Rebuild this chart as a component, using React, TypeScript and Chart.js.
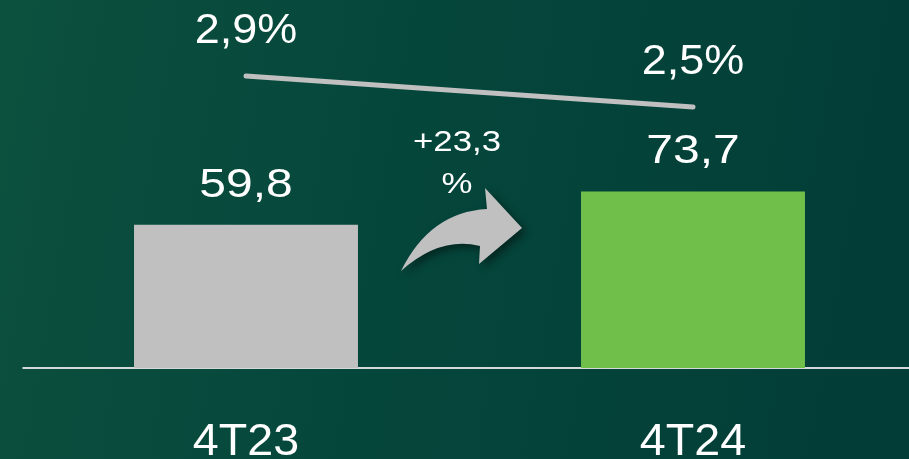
import React, { useEffect, useRef } from "react";
import { Chart, registerables } from "chart.js";

Chart.register(...registerables);

const categories = ["4T23", "4T24"];
const barValues = [59.8, 73.7];
const ratioValues = [2.9, 2.5];
const growthLabel = ["+23,3", "%"];
const barColors = ["#c0c0c0", "#70bf4b"];

const fmt = (v: number) => v.toFixed(1).replace(".", ",");

function drawText(ctx: CanvasRenderingContext2D, text: string, x: number, y: number, size: number, sx: number) {
  ctx.save();
  ctx.translate(x, y);
  ctx.scale(sx, 1);
  ctx.font = `${size}px "Liberation Sans", Arial, sans-serif`;
  ctx.fillStyle = "#ffffff";
  ctx.textAlign = "center";
  ctx.textBaseline = "alphabetic";
  ctx.fillText(text, 0, 0);
  ctx.restore();
}

const overlayPlugin = {
  id: "overlay",
  beforeDatasetsDraw(chart: any) {
    const ctx = chart.ctx as CanvasRenderingContext2D;
    const area = chart.chartArea;
    ctx.save();
    ctx.strokeStyle = "#d4d8d8";
    ctx.lineWidth = 2;
    ctx.beginPath();
    ctx.moveTo(area.left, area.bottom);
    ctx.lineTo(chart.width, area.bottom);
    ctx.stroke();
    ctx.restore();
  },
  afterDatasetsDraw(chart: any) {
    const ctx = chart.ctx as CanvasRenderingContext2D;
    const area = chart.chartArea;
    const bars = chart.getDatasetMeta(0).data;
    const pts = chart.getDatasetMeta(1).data;

    bars.forEach((b: any, i: number) => {
      drawText(ctx, fmt(barValues[i]), b.x, b.y - 28, 40, 1.2);
      drawText(ctx, categories[i], b.x, area.bottom + 87, 44, 1.06);
    });
    pts.forEach((p: any, i: number) => {
      drawText(ctx, fmt(ratioValues[i]) + "%", p.x, p.y - 33, 42, 1.07);
    });

    // growth arrow between the categories
    const mx = (bars[0].x + bars[1].x) / 2;
    const by = area.bottom;
    const P = (dx: number, dy: number): [number, number] => [mx + dx, by + dy];
    ctx.save();
    ctx.shadowColor = "rgba(0,0,0,0.45)";
    ctx.shadowBlur = 8;
    ctx.shadowOffsetX = 4;
    ctx.shadowOffsetY = 4;
    ctx.fillStyle = "#c0c0c0";
    ctx.beginPath();
    const tail = P(-68.5, -97);
    ctx.moveTo(tail[0], tail[1]);
    const c1 = P(-39.5, -156);
    const j1 = P(17.5, -159);
    ctx.quadraticCurveTo(c1[0], c1[1], j1[0], j1[1]);
    const ht = P(15.5, -180);
    ctx.lineTo(ht[0], ht[1]);
    const tip = P(52.5, -140);
    ctx.lineTo(tip[0], tip[1]);
    const hb = P(9.5, -104);
    ctx.lineTo(hb[0], hb[1]);
    const j2 = P(10.5, -122);
    ctx.lineTo(j2[0], j2[1]);
    const c2 = P(-29.5, -132);
    ctx.quadraticCurveTo(c2[0], c2[1], tail[0], tail[1]);
    ctx.closePath();
    ctx.fill();
    ctx.restore();

    drawText(ctx, growthLabel[0], mx - 12.5, by - 217, 29, 1.2);
    drawText(ctx, growthLabel[1], mx - 12.5, by - 175, 29, 1.2);
  },
};

export default function App() {
  const ref = useRef<HTMLCanvasElement | null>(null);
  useEffect(() => {
    if (!ref.current) return;
    const chart = new Chart(ref.current, {
      type: "bar",
      data: {
        labels: categories,
        datasets: [
          {
            type: "bar",
            data: barValues,
            backgroundColor: barColors,
            borderWidth: 0,
            barPercentage: 1,
            categoryPercentage: 0.501,
            yAxisID: "y",
            order: 2,
          },
          {
            type: "line",
            data: ratioValues,
            borderColor: "#c0c0c0",
            borderWidth: 5,
            borderCapStyle: "round",
            pointRadius: 0,
            fill: false,
            yAxisID: "y1",
            order: 1,
          } as any,
        ],
      },
      options: {
        responsive: false,
        animation: false,
        devicePixelRatio: 1,
        layout: { padding: { left: 22.5, right: 23.5, top: 0, bottom: 91 } },
        plugins: { legend: { display: false }, tooltip: { enabled: false } },
        scales: {
          x: { display: false, offset: true },
          y: { display: false, min: 0, max: 153.65 },
          y1: { display: false, min: -0.868, max: 3.881 },
        },
      },
      plugins: [overlayPlugin],
    });
    return () => chart.destroy();
  }, []);

  return (
    <div
      style={{
        position: "fixed",
        left: 0,
        top: 0,
        width: 909,
        height: 459,
        overflow: "hidden",
        background: "linear-gradient(100deg, #0c503e 0%, #05463b 45%, #023d37 100%)",
      }}
    >
      <canvas ref={ref} width={940} height={459} style={{ display: "block" }} />
    </div>
  );
}
